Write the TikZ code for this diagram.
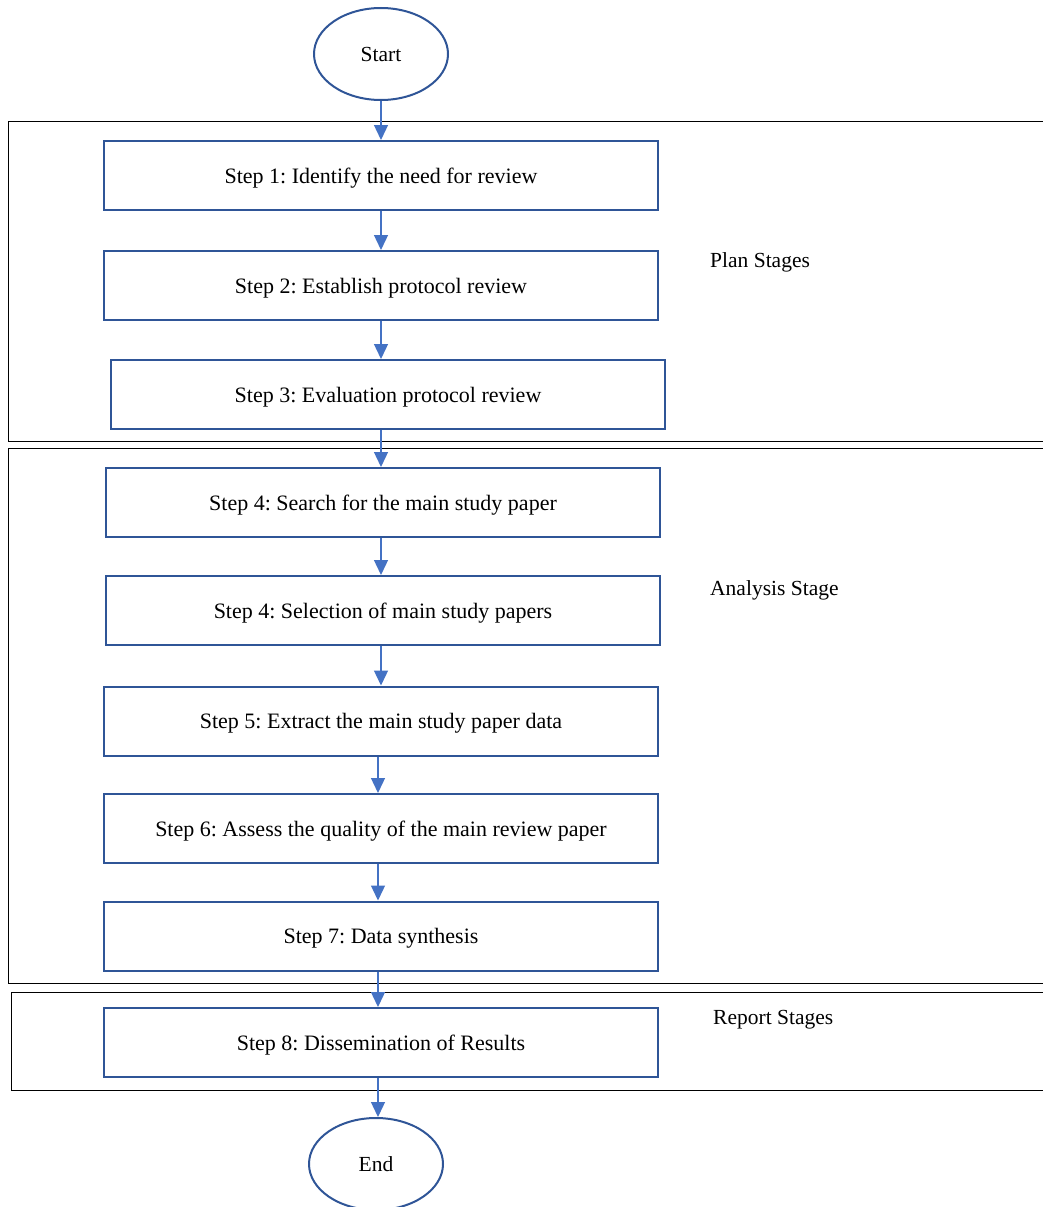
\documentclass[tikz,border=0pt]{standalone}
\usepackage{fontspec}
\setmainfont{Liberation Serif}
\usetikzlibrary{shapes.geometric,arrows.meta}
\definecolor{boxblue}{RGB}{47,85,151}
\definecolor{arrblue}{RGB}{68,114,196}
\frenchspacing
\tikzset{
  basefont/.style={font=\fontsize{21.5}{25}\selectfont},
  stepfont/.style={font=\fontsize{22}{25}\selectfont},
  stepbox/.style={draw=boxblue, line width=2pt, rectangle, minimum width=554pt, minimum height=69pt, inner sep=0pt, stepfont, text depth=0pt, yshift=0pt},
  oval/.style={draw=boxblue, line width=2pt, ellipse, minimum width=134pt, minimum height=92pt, inner sep=0pt, basefont, text depth=0pt},
  stagebox/.style={draw=black, line width=1pt, rectangle, inner sep=0pt},
  stagelabel/.style={anchor=west, inner sep=0pt, basefont},
  arr/.style={draw=arrblue, line width=1.3pt, -{Triangle[width=14pt,length=15pt]}}
}
\begin{document}
\begin{tikzpicture}[x=1pt,y=-1pt]
\useasboundingbox (0,0) rectangle (1042,1207);
% stage boxes
\node[stagebox, minimum width=1052pt, minimum height=320pt] (plan) at (534,281) {};
\node[stagebox, minimum width=1052pt, minimum height=535pt] (analysis) at (534,715.5) {};
\node[stagebox, minimum width=1049pt, minimum height=98pt] (report) at (535.5,1041) {};
\node[stagelabel] (lplan) at (710,262) {Plan Stages};
\node[stagelabel] (lanalysis) at (710,590) {Analysis Stage};
\node[stagelabel] (lreport) at (713,1020) {Report Stages};
% flow
\node[oval] (start) at (381,54) {Start};
\node[stepbox] (s1) at (381,175.5) {Step 1: Identify the need for review};
\node[stepbox] (s2) at (381,285.5) {Step 2: Establish protocol review};
\node[stepbox] (s3) at (388,394.5) {Step 3: Evaluation protocol review};
\node[stepbox] (s4) at (383,502.5) {Step 4: Search for the main study paper};
\node[stepbox] (s4b) at (383,610.5) {Step 4: Selection of main study papers};
\node[stepbox] (s5) at (381,721) {Step 5: Extract the main study paper data};
\node[stepbox] (s6) at (381,828.5) {Step 6: Assess the quality of the main review paper};
\node[stepbox] (s7) at (381,936) {Step 7: Data synthesis};
\node[stepbox] (s8) at (381,1042.5) {Step 8: Dissemination of Results};
\node[oval] (end) at (376,1164) {End};
\coordinate (xa) at (381,0);
\coordinate (xb) at (378,0);
\draw[arr] (start.south) -- (s1.north -| start.south);
\draw[arr] (s1.south -| xa) -- (s2.north -| xa);
\draw[arr] (s2.south -| xa) -- (s3.north -| xa);
\draw[arr] (s3.south -| xa) -- (s4.north -| xa);
\draw[arr] (s4.south -| xa) -- (s4b.north -| xa);
\draw[arr] (s4b.south -| xa) -- (s5.north -| xa);
\draw[arr] (s5.south -| xb) -- (s6.north -| xb);
\draw[arr] (s6.south -| xb) -- (s7.north -| xb);
\draw[arr] (s7.south -| xb) -- (s8.north -| xb);
\draw[arr] (s8.south -| xb) -- (end.north -| xb);
\end{tikzpicture}
\end{document}
